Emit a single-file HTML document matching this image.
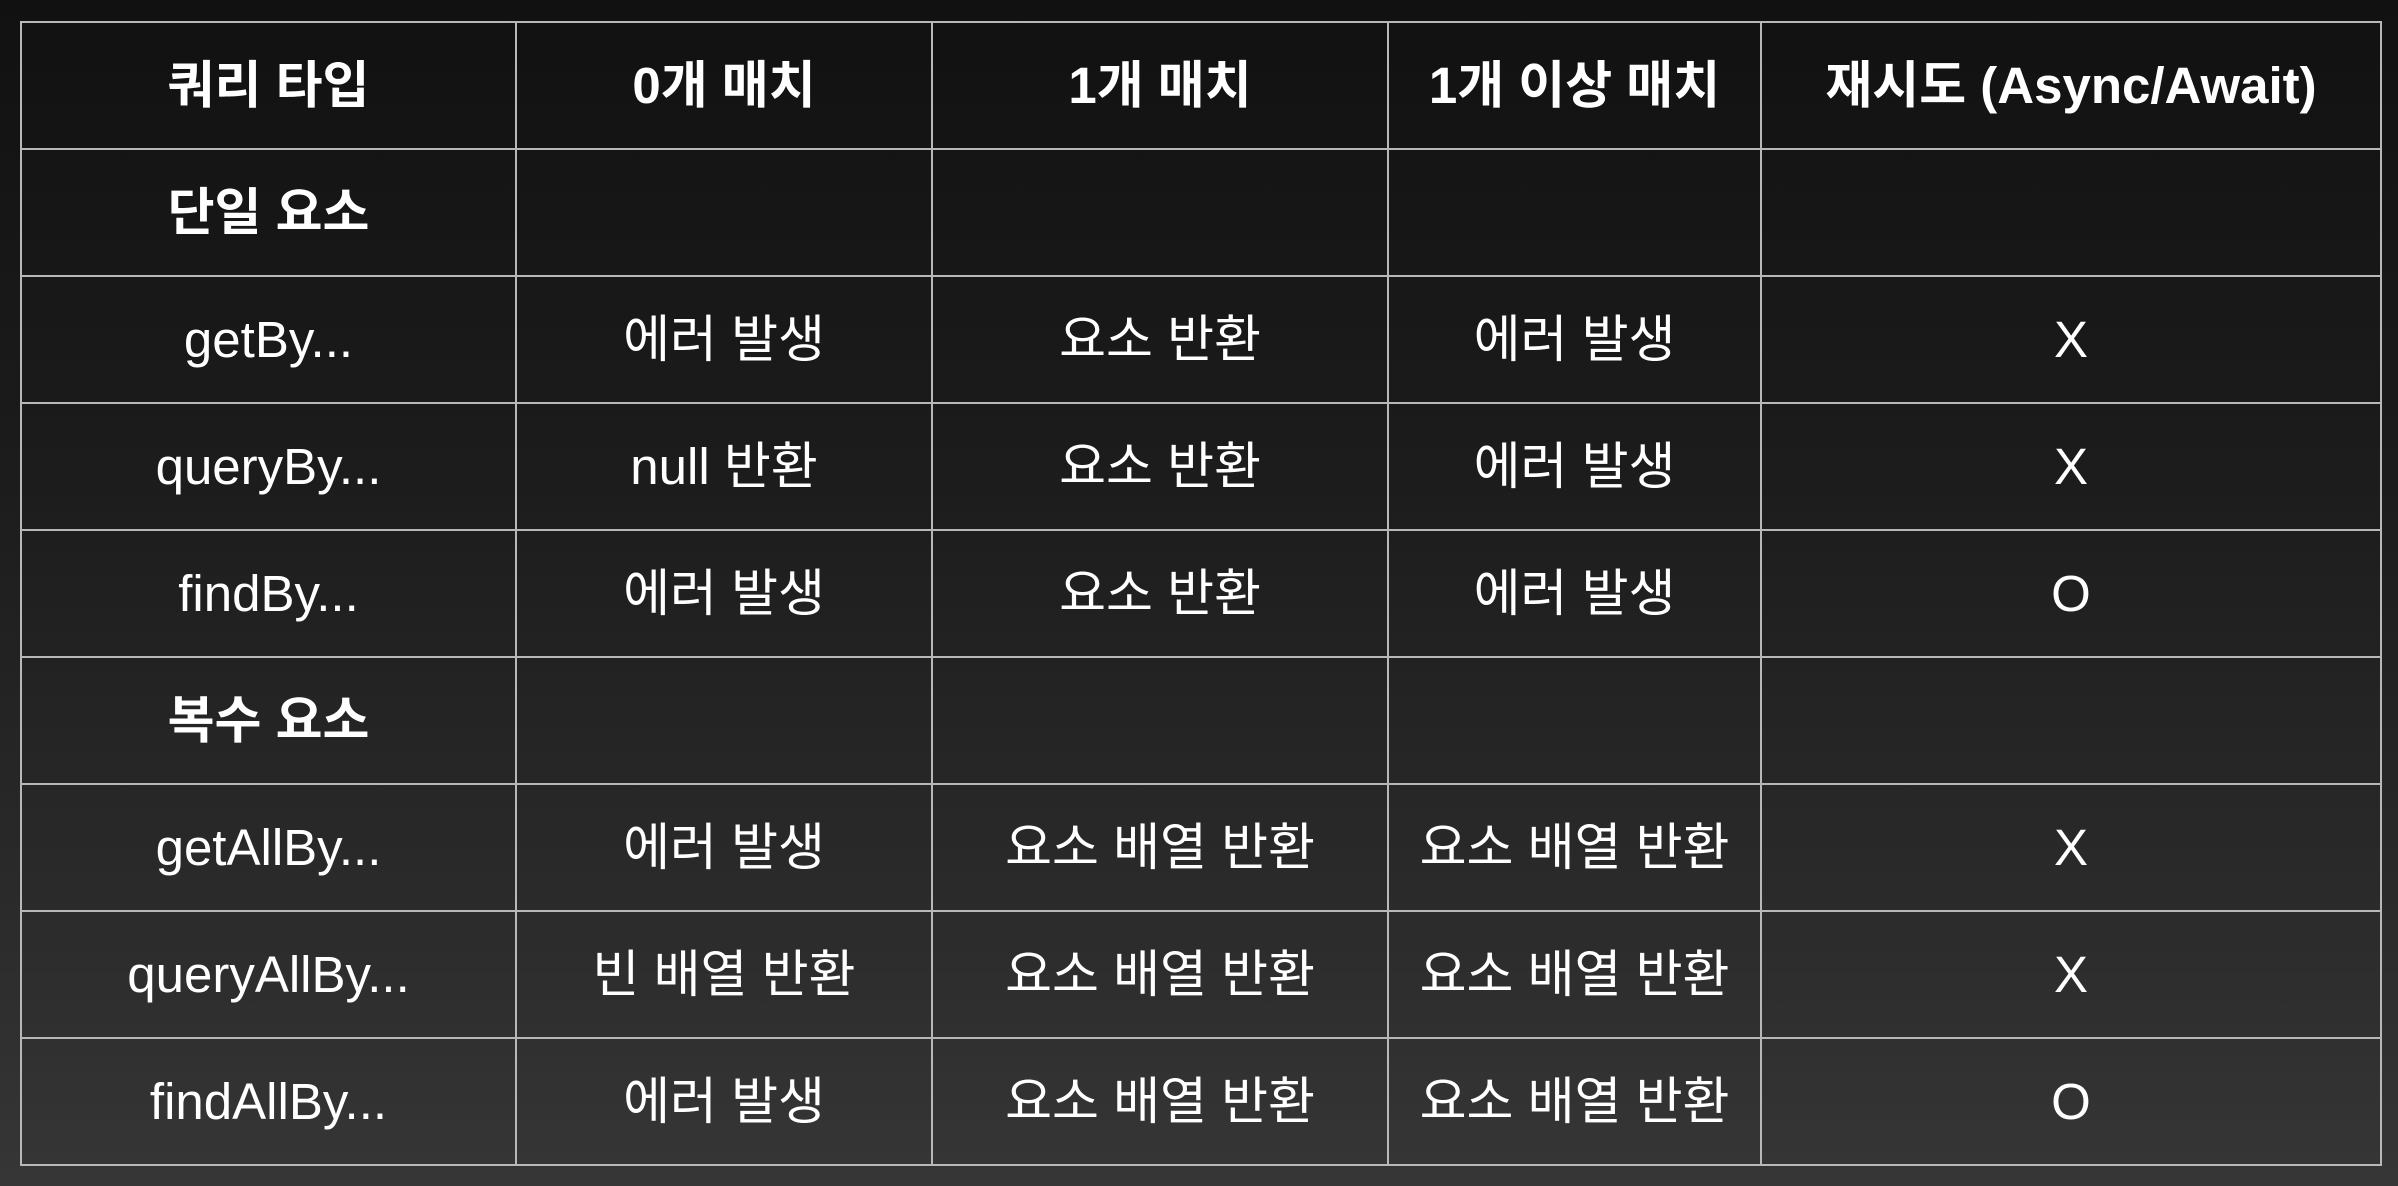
<!DOCTYPE html>
<html><head><meta charset="utf-8">
<style>
html,body{margin:0;padding:0;}
body{width:2398px;height:1186px;background:linear-gradient(180deg,#111111 0%,#1c1c1c 40%,#2a2a2a 75%,#363636 100%);font-family:"Liberation Sans","Noto Sans CJK KR","NanumGothic",sans-serif;color:#fff;overflow:hidden;position:relative;}
table{position:absolute;left:20px;top:21px;width:2360px;border-collapse:collapse;table-layout:fixed;}
td,th{border:2px solid #b8b8b8;text-align:center;vertical-align:middle;font-size:51px;padding:0;height:127px;box-sizing:border-box;line-height:1;}
th,.b{font-weight:bold;}
td{font-weight:normal;}
</style></head>
<body>
<table>
<colgroup><col style="width:495px"><col style="width:416px"><col style="width:456px"><col style="width:373px"><col style="width:620px"></colgroup>
<tr><th>쿼리 타입</th><th>0개 매치</th><th>1개 매치</th><th>1개 이상 매치</th><th>재시도 (Async/Await)</th></tr>
<tr><td class="b">단일 요소</td><td></td><td></td><td></td><td></td></tr>
<tr><td>getBy...</td><td>에러 발생</td><td>요소 반환</td><td>에러 발생</td><td>X</td></tr>
<tr><td>queryBy...</td><td>null 반환</td><td>요소 반환</td><td>에러 발생</td><td>X</td></tr>
<tr><td>findBy...</td><td>에러 발생</td><td>요소 반환</td><td>에러 발생</td><td>O</td></tr>
<tr><td class="b">복수 요소</td><td></td><td></td><td></td><td></td></tr>
<tr><td>getAllBy...</td><td>에러 발생</td><td>요소 배열 반환</td><td>요소 배열 반환</td><td>X</td></tr>
<tr><td>queryAllBy...</td><td>빈 배열 반환</td><td>요소 배열 반환</td><td>요소 배열 반환</td><td>X</td></tr>
<tr><td>findAllBy...</td><td>에러 발생</td><td>요소 배열 반환</td><td>요소 배열 반환</td><td>O</td></tr>
</table>
</body></html>
